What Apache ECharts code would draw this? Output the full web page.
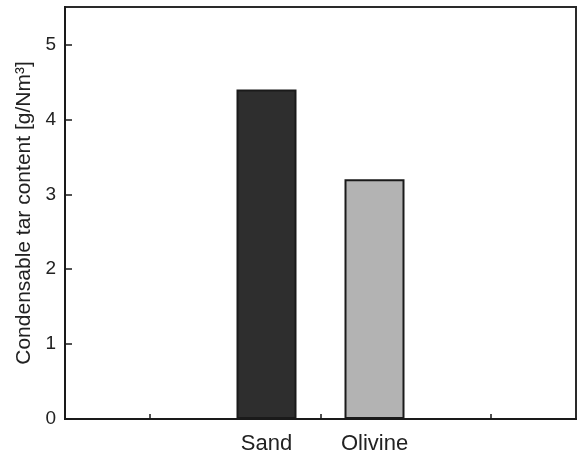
<!DOCTYPE html>
<html>
<head>
<meta charset="utf-8">
<script src="https://cdn.jsdelivr.net/npm/echarts@6/dist/echarts.min.js"></script>
<style>html,body{margin:0;padding:0;background:#fff;}#c{width:580px;height:458px;}</style>
</head>
<body>
<div id="c"></div>
<script>
const categories = ['Sand', 'Olivine'];
const values = [4.4, 3.2];
const colors = ['#2e2e2e', '#b3b3b3'];
const tickSlots = ['', '', ''];
const yTitle = 'Condensable tar content [g/Nm³]';

const font = 'Arial, "Liberation Sans", sans-serif';
const chart = echarts.init(document.getElementById('c'));
const series = categories.map((name, i) => ({
  type: 'bar',
  name: name,
  xAxisIndex: 0,
  data: [values[i]],
  barWidth: 60,
  barGap: '80%',
  itemStyle: { color: colors[i], borderColor: '#1a1a1a', borderWidth: 2 },
  label: {
    show: true, position: 'bottom', distance: 14,
    formatter: name, color: '#222', fontSize: 22, fontFamily: font
  },
  silent: true
}));
chart.setOption({
  animation: false,
  grid: { left: 65, right: 4, top: 7, bottom: 39, show: true, borderColor: '#2a2a2a', borderWidth: 2, backgroundColor: 'transparent' },
  xAxis: [
    { type: 'category', data: [''], show: false },
    { type: 'category', data: tickSlots, position: 'bottom',
      axisLine: { lineStyle: { color: '#1a1a1a', width: 2 } },
      axisTick: { show: true, inside: true, alignWithLabel: true, length: 5, lineStyle: { color: '#1a1a1a', width: 1.5 } },
      axisLabel: { show: false }, splitLine: { show: false } }
  ],
  yAxis: {
    type: 'value', min: 0, max: 5.5, interval: 1,
    name: yTitle, nameLocation: 'middle', nameGap: 29,
    nameTextStyle: { fontSize: 21, color: '#222', fontFamily: font },
    axisLine: { show: true, lineStyle: { color: '#1a1a1a', width: 2 } },
    axisTick: { show: true, inside: true, length: 7, lineStyle: { color: '#1a1a1a', width: 1.5 } },
    axisLabel: { fontSize: 19, color: '#222', fontFamily: font, margin: 9, showMaxLabel: false,
      formatter: v => (v % 1 === 0 ? String(v) : '') },
    splitLine: { show: false }
  },
  series: series
});
</script>
</body>
</html>
